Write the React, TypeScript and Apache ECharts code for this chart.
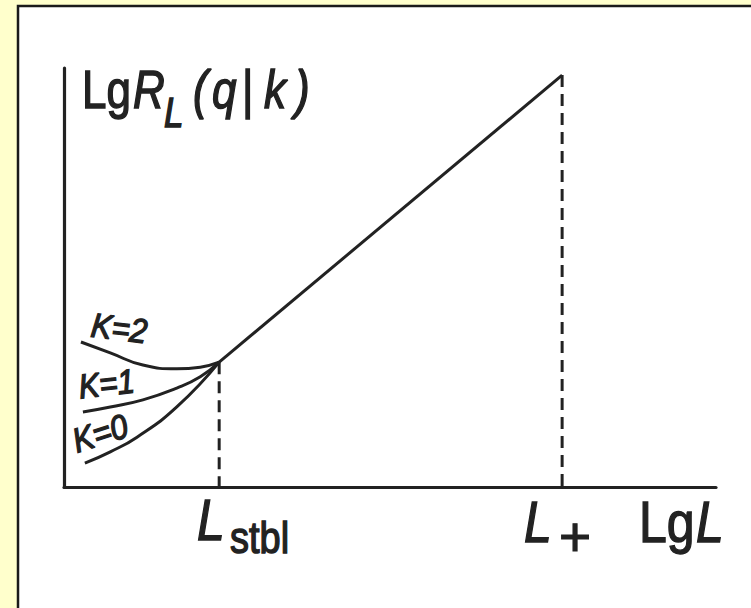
import React, { useEffect, useRef } from "react";
import * as echarts from "echarts";

// Curves of Lg R_L(q|k) against Lg L for K = 0, 1, 2 (arbitrary log units)
const lgLK2 = [0.26, 0.71, 1.21, 1.73, 2.09, 2.38];
const lgRK2 = [3.46, 3.2, 2.91, 2.82, 2.86, 2.98];
const lgLK1 = [0.29, 0.71, 1.21, 1.73, 2.09, 2.38];
const lgRK1 = [1.79, 1.91, 2.08, 2.36, 2.63, 2.98];
const lgLK0 = [0.32, 0.71, 1.12, 1.73, 2.38];
const lgRK0 = [0.57, 0.84, 1.19, 1.91, 2.98];

// Characteristic lengths: L_stbl and L_+ (x) with the curve value there (y)
const markLgL = [2.38, 7.64];
const markLgR = [2.98, 9.83];

const AXIS_MAX = 10;
const INK = "#222";
const FAMILY = "'Liberation Sans', Arial, sans-serif";

const pairs = (xs: number[], ys: number[]) => xs.map((x, i) => [x, ys[i]]);

// Text piece anchored at its baseline start
function piece(
  text: string,
  x: number,
  baseline: number,
  size: number,
  italic: boolean,
  sy = 1,
  rot = 0
) {
  return {
    type: "text",
    x,
    y: baseline,
    rotation: rot,
    scaleY: sy,
    z: 20,
    silent: true,
    style: {
      text,
      x: 0,
      y: -0.35 * size,
      align: "left",
      verticalAlign: "middle",
      font: `${italic ? "italic " : ""}${size}px ${FAMILY}`,
      fill: INK,
      stroke: INK,
      lineWidth: 1.2,
    },
  };
}

export default function App() {
  const ref = useRef<HTMLDivElement>(null);

  useEffect(() => {
    if (!ref.current) return;
    const chart = echarts.init(ref.current, undefined, { renderer: "svg" });

    const solid = (data: number[][]) => ({
      type: "line",
      data,
      smooth: 0.5,
      symbol: "none",
      silent: true,
      z: 5,
      lineStyle: { color: INK, width: 3 },
    });
    const dashed = (i: number) => ({
      type: "line",
      data: [
        [markLgL[i], markLgR[i]],
        [markLgL[i], 0],
      ],
      symbol: "none",
      silent: true,
      z: 4,
      lineStyle: { color: INK, width: 3, type: [12, 7] },
    });

    const topSy = 1.2;
    const botSy = 1.15;

    chart.setOption({
      animation: false,
      backgroundColor: "#FFFFCC",
      grid: { left: 64, right: 35, top: 68, bottom: 121 },
      xAxis: {
        type: "value",
        min: 0,
        max: AXIS_MAX,
        axisLine: { show: true, onZero: false, lineStyle: { color: INK, width: 3.2 } },
        axisTick: { show: false },
        axisLabel: { show: false },
        splitLine: { show: false },
      },
      yAxis: {
        type: "value",
        min: 0,
        max: AXIS_MAX,
        axisLine: { show: true, onZero: false, lineStyle: { color: INK, width: 3.2 } },
        axisTick: { show: false },
        axisLabel: { show: false },
        splitLine: { show: false },
      },
      graphic: [
        {
          type: "rect",
          z: -1,
          silent: true,
          shape: { x: 18, y: 6, width: 800, height: 700 },
          style: { fill: "#fff", stroke: "#1a1a1a", lineWidth: 2.5 },
        },
        // y axis title: Lg R_L(q|k)
        piece("Lg", 82, 108, 44, false, topSy),
        piece("R", 133, 108, 44, true, topSy),
        piece("L", 164, 127, 35, true, topSy),
        piece("(", 193, 108, 44, true, topSy),
        piece("q", 212, 108, 44, true, topSy),
        piece("|", 242, 108, 44, false, topSy),
        piece("k", 264, 108, 44, true, topSy),
        piece(")", 295, 108, 44, true, topSy),
        // x marks: L_stbl, L_+
        piece("L", 197, 540, 50, true, botSy),
        piece("stbl", 230, 553, 38, false, botSy),
        piece("L", 524, 542, 50, true, botSy),
        piece("+", 559, 556, 55, false, 1),
        // x axis title: Lg L
        piece("Lg", 639, 542, 50, false, botSy),
        piece("L", 696, 542, 50, true, botSy),
        // curve labels
        piece("K=2", 90, 337, 31, true, 1.1, -0.12),
        piece("K=1", 80, 399, 31, true, 1.1, 0.11),
        piece("K=0", 77, 453, 31, true, 1.1, 0.31),
      ],
      series: [
        solid(pairs(lgLK2, lgRK2)),
        solid(pairs(lgLK1, lgRK1)),
        solid(pairs(lgLK0, lgRK0)),
        solid(pairs(markLgL, markLgR)),
        dashed(0),
        dashed(1),
      ],
    });

    return () => chart.dispose();
  }, []);

  return (
    <div
      ref={ref}
      style={{ position: "fixed", left: 0, top: 0, width: 751, height: 608 }}
    />
  );
}
